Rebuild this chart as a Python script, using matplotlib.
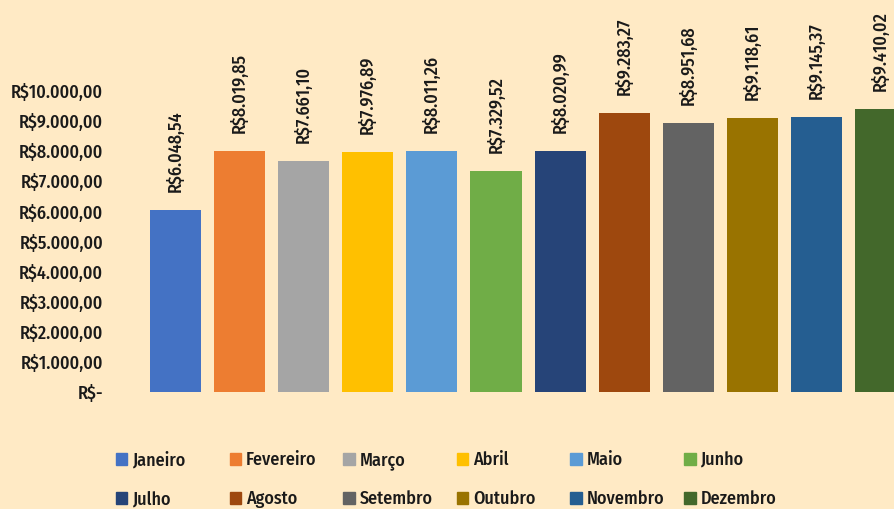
import matplotlib
matplotlib.use('Agg')
import matplotlib.pyplot as plt
from matplotlib import font_manager as fm
from matplotlib.patches import Rectangle
from matplotlib.ticker import FuncFormatter

meses = ['Janeiro', 'Fevereiro', 'Março', 'Abril', 'Maio', 'Junho',
         'Julho', 'Agosto', 'Setembro', 'Outubro', 'Novembro', 'Dezembro']
valores = [6048.54, 8019.85, 7661.10, 7976.89, 8011.26, 7329.52,
           8020.99, 9283.27, 8951.68, 9118.61, 9145.37, 9410.02]
cores = ['#4472C4', '#ED7D31', '#A5A5A5', '#FFC000', '#5B9BD5', '#70AD47',
         '#264478', '#9E480E', '#636363', '#997300', '#255E91', '#43682B']
bg = '#FFEAC5'

# condensed font if available
disp = {f.name for f in fm.fontManager.ttflist}
pref = ['Fira Sans Condensed', 'Encode Sans Condensed', 'Carlito', 'Roboto Condensed']
fonte = [n for n in pref if n in disp][:1] + ['DejaVu Sans']
plt.rcParams['font.family'] = fonte
plt.rcParams['font.weight'] = 'medium'
fs = 13
W, H = 894, 509


def brl(v):
    # formato moeda brasileiro: R$10.000,00
    if v == 0:
        return 'R$-'
    s = f'{v:,.2f}'.replace(',', 'X').replace('.', ',').replace('X', '.')
    return 'R$' + s


fig = plt.figure(figsize=(W / 100, H / 100), dpi=100, facecolor=bg)
# plot area runs past the right edge, like the cropped original
ax = fig.add_axes([143.45 / W, 1 - 391.7 / H, 769.2 / W, 300.5 / H])
ax.set_facecolor(bg)

x = range(len(meses))
ax.bar(x, valores, width=0.796, color=cores)
for i, v in zip(x, valores):
    ax.annotate(brl(v), (i, v), xytext=(0, 13), textcoords='offset points',
                rotation=90, ha='center', va='bottom', fontsize=fs,
                color='#1a1a1a', annotation_clip=False)

ax.set_xlim(-0.5, 11.5)
ax.set_ylim(0, 10000)
ax.set_yticks(range(0, 10001, 1000))
ax.yaxis.set_major_formatter(FuncFormatter(lambda v, p: brl(v)))
ax.set_xticks([])
ax.tick_params(axis='y', length=0, labelsize=fs, labelcolor='#1a1a1a', pad=29)
for s in ax.spines.values():
    s.set_visible(False)

# legenda estilo Excel: 6 colunas igualmente espaçadas, linhas alinhadas pela base
for i, (m, c) in enumerate(zip(meses, cores)):
    lx = 116 + (i % 6) * 113.6
    base = 465 + (i // 6) * 39
    fig.patches.append(Rectangle((lx / W, 1 - (base - 0.5) / H), 11.5 / W, 11.5 / H,
                                 transform=fig.transFigure, color=c))
    fig.text((lx + 16.5) / W, 1 - base / H, m, fontsize=fs, va='baseline',
             ha='left', color='#1a1a1a')

fig.savefig('out.png', facecolor=bg)
